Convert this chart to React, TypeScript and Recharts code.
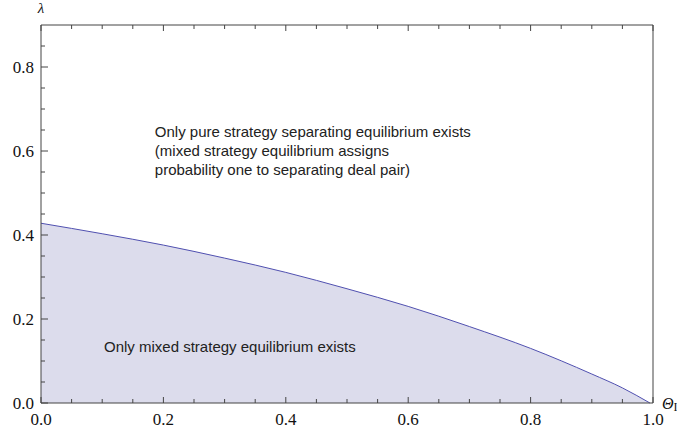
import { ComposedChart, Area, XAxis, YAxis, ReferenceDot } from "recharts";

const theta = [0, 0.1, 0.2, 0.3, 0.4, 0.5, 0.6, 0.7, 0.8, 0.9, 0.95, 0.995];
const lambda = [0.428, 0.403, 0.376, 0.345, 0.311, 0.272, 0.23, 0.182, 0.13, 0.069, 0.036, 0];
const xTicks = [0, 0.05, 0.1, 0.15, 0.2, 0.25, 0.3, 0.35, 0.4, 0.45, 0.5, 0.55, 0.6, 0.65, 0.7, 0.75, 0.8, 0.85, 0.9, 0.95, 1.0];
const yTicks = [0, 0.05, 0.1, 0.15, 0.2, 0.25, 0.3, 0.35, 0.4, 0.45, 0.5, 0.55, 0.6, 0.65, 0.7, 0.75, 0.8, 0.85];
const upperText = [
  "Only pure strategy separating equilibrium exists",
  "(mixed strategy equilibrium assigns",
  "probability one to separating deal pair)",
];
const lowerText = "Only mixed strategy equilibrium exists";

const data = theta.map((t, i) => ({ theta: t, lambda: lambda[i] }));

const frame = "#444";
const serif = "Liberation Serif, Times New Roman, serif";
const sans = "Liberation Sans, Arial, sans-serif";

// a tick is major every 0.2
const isMajor = (v: number) => Math.round(v * 100) % 20 === 0;

// Mathematica style frame: ticks point into the plot
function BottomTick({ x, y, payload }: any) {
  const major = isMajor(payload.value);
  return (
    <g>
      <line x1={x} y1={y} x2={x} y2={y - (major ? 6 : 4)} stroke={frame} />
      {major && (
        <text x={x} y={y + 22} textAnchor="middle" fontFamily={serif} fontSize={17} fill="#111">
          {payload.value.toFixed(1)}
        </text>
      )}
    </g>
  );
}

function TopTick({ x, y, payload }: any) {
  const major = isMajor(payload.value);
  return <line x1={x} y1={y} x2={x} y2={y + (major ? 6 : 4)} stroke={frame} />;
}

function LeftTick({ x, y, payload }: any) {
  const major = isMajor(payload.value);
  return (
    <g>
      <line x1={x} y1={y} x2={x + (major ? 7 : 4)} y2={y} stroke={frame} />
      {major && (
        <text x={x - 7} y={y + 6} textAnchor="end" fontFamily={serif} fontSize={17} fill="#111">
          {payload.value.toFixed(1)}
        </text>
      )}
    </g>
  );
}

function RightTick({ x, y, payload }: any) {
  const major = isMajor(payload.value);
  return <line x1={x} y1={y} x2={x - (major ? 7 : 4)} y2={y} stroke={frame} />;
}

function App(): JSX.Element {
  return (
    <div style={{ position: "absolute", left: 0, top: 0 }}>
      <ComposedChart
        width={677}
        height={438}
        data={data}
        margin={{ top: 24, right: 23, left: 0, bottom: 0 }}
      >
        <XAxis xAxisId="main" dataKey="theta" type="number" domain={[0, 1]} ticks={xTicks}
          interval={0} height={35} tickSize={0} tickMargin={0} tickLine={false}
          tick={<BottomTick />} stroke={frame} />
        <XAxis xAxisId="top" orientation="top" dataKey="theta" type="number" domain={[0, 1]}
          ticks={xTicks} interval={0} height={1} tickSize={0} tickMargin={0} tickLine={false}
          tick={<TopTick />} stroke={frame} />
        <YAxis yAxisId="main" type="number" domain={[0, 0.9]} ticks={yTicks} interval={0}
          width={41} tickSize={0} tickMargin={0} tickLine={false} tick={<LeftTick />} stroke={frame} />
        <YAxis yAxisId="right" orientation="right" type="number" domain={[0, 0.9]} ticks={yTicks}
          interval={0} width={1} tickSize={0} tickMargin={0} tickLine={false} tick={<RightTick />}
          stroke={frame} />

        <Area
          xAxisId="main"
          yAxisId="main"
          dataKey="lambda"
          type="monotone"
          stroke="#5050b0"
          strokeWidth={1}
          fill="#dcdcec"
          fillOpacity={1}
          isAnimationActive={false}
        />

        <ReferenceDot xAxisId="main" yAxisId="main" x={0.186} y={0.633} r={0.01} fill="none" stroke="none"
          label={(p: any) => (
            <text x={p.viewBox.x} y={p.viewBox.y} fontFamily={sans} fontSize={15} fill="#222">
              {upperText.map((line, i) => (
                <tspan key={i} x={p.viewBox.x} dy={i === 0 ? 0 : 19}>{line}</tspan>
              ))}
            </text>
          )} />
        <ReferenceDot xAxisId="main" yAxisId="main" x={0.103} y={0.122} r={0.01} fill="none" stroke="none"
          label={(p: any) => (
            <text x={p.viewBox.x} y={p.viewBox.y} fontFamily={sans} fontSize={15} fill="#222">
              {lowerText}
            </text>
          )} />
        <ReferenceDot xAxisId="main" yAxisId="main" x={0} y={0.9} r={0.01} fill="none" stroke="none"
          label={(p: any) => (
            <text x={p.viewBox.x} y={p.viewBox.y - 12} textAnchor="middle"
              fontFamily={serif} fontStyle="italic" fontSize={15} fill="#111">λ</text>
          )} />
        <ReferenceDot xAxisId="main" yAxisId="main" x={1} y={0} r={0.01} fill="none" stroke="none"
          label={(p: any) => (
            <text x={p.viewBox.x + 9} y={p.viewBox.y + 6} fontFamily={serif} fontSize={16} fill="#111">
              <tspan fontStyle="italic">Θ</tspan>
              <tspan fontSize={12} dy={2}>I</tspan>
            </text>
          )} />
      </ComposedChart>
    </div>
  );
}

export default App;
